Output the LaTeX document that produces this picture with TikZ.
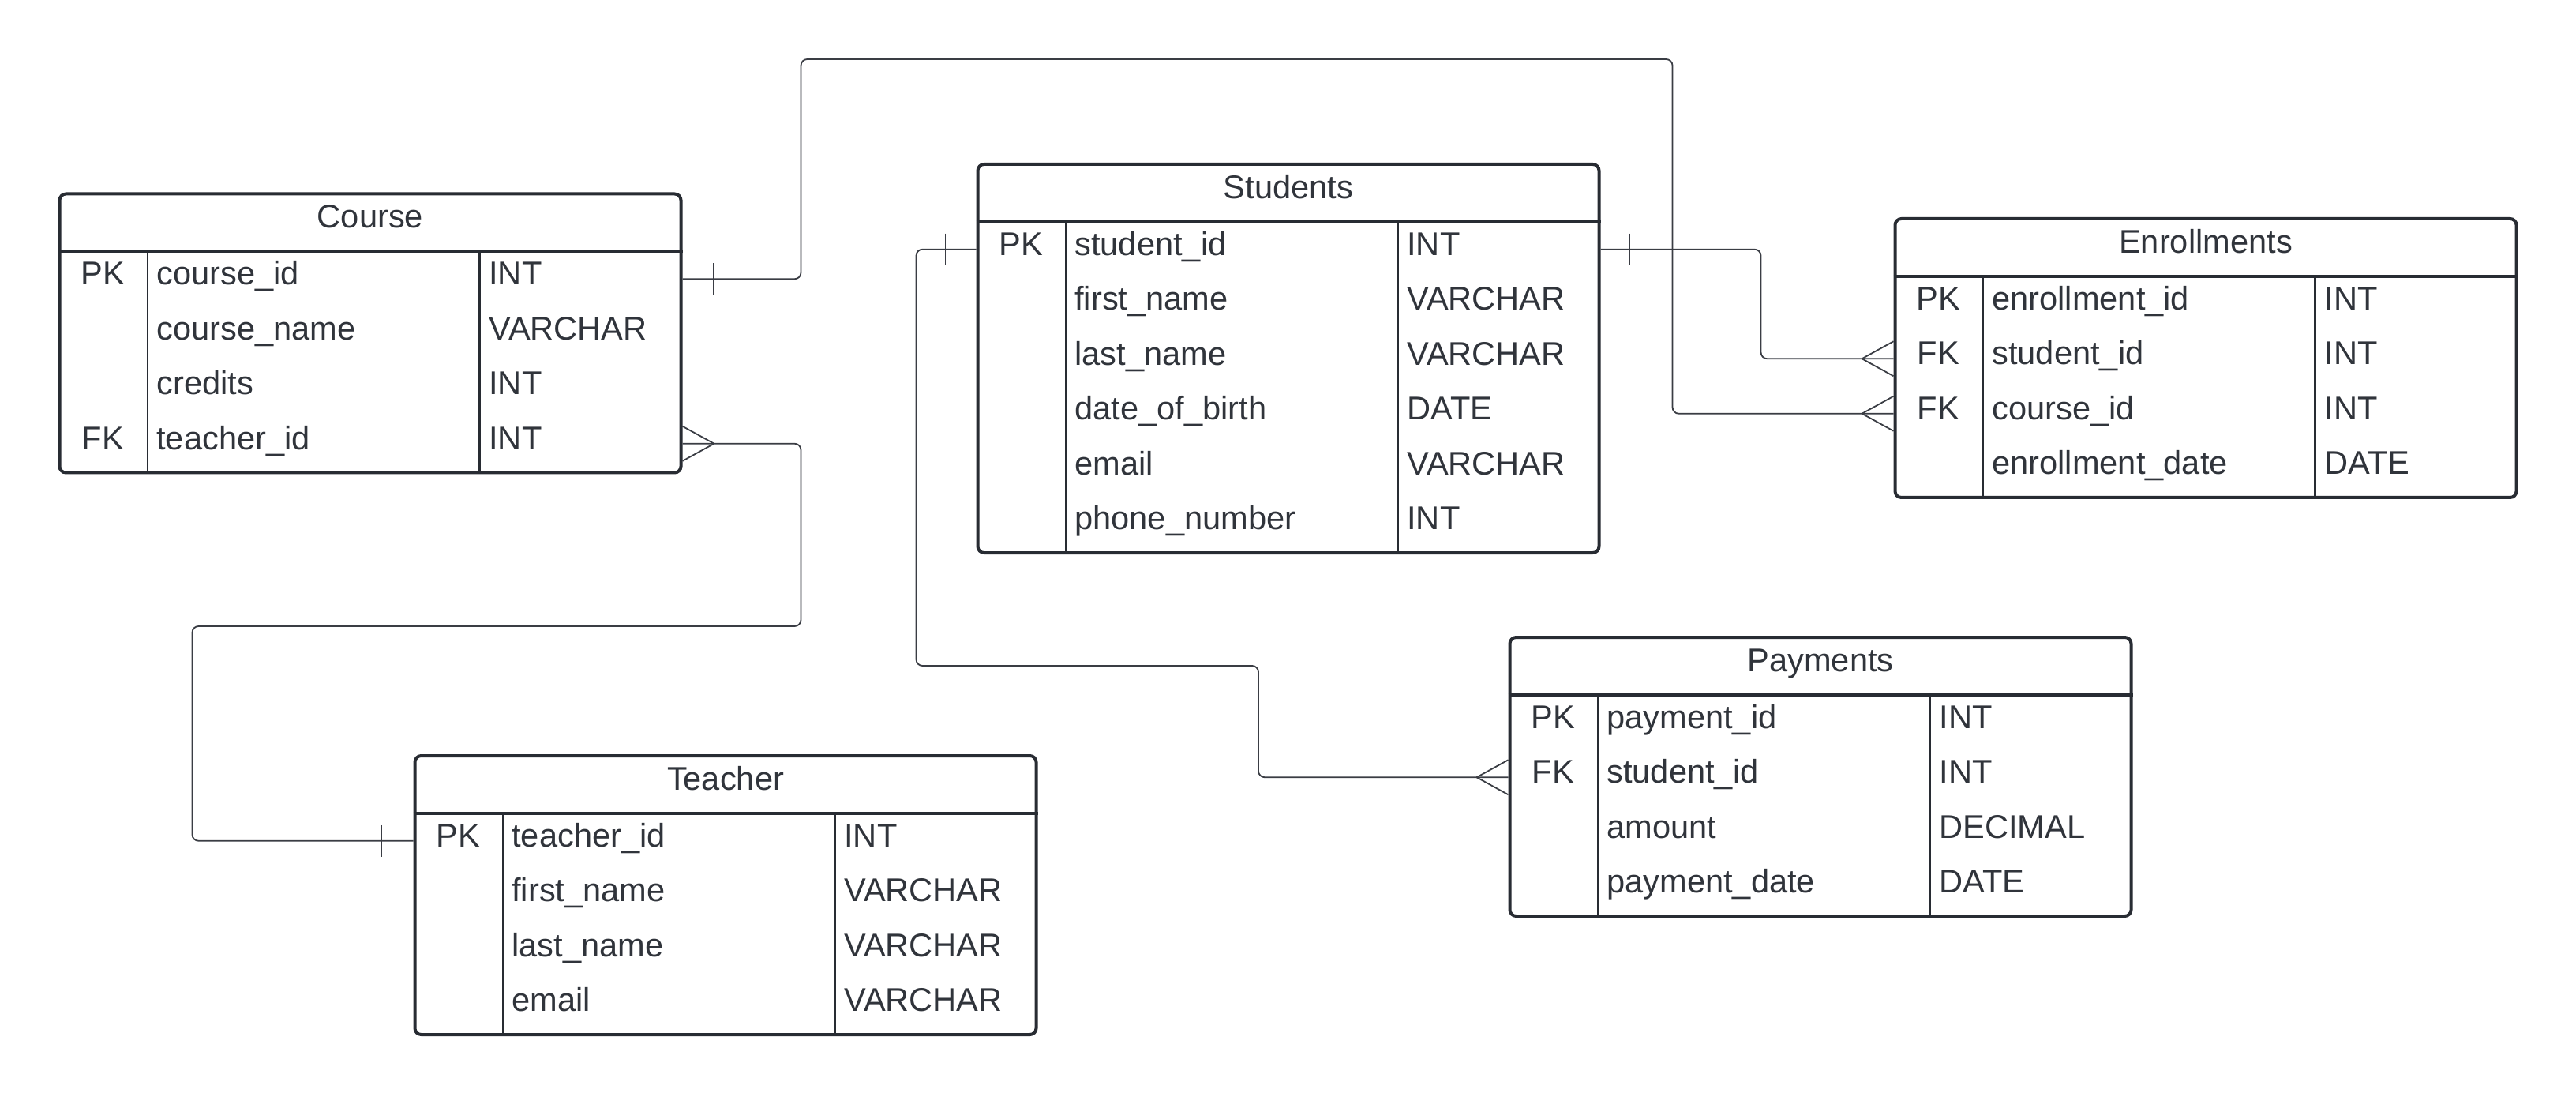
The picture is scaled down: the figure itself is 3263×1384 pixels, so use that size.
\documentclass[tikz,border=0pt]{standalone}
\usepackage{fontspec}
\setmainfont{Liberation Sans}
\usetikzlibrary{calc}
\definecolor{ink}{HTML}{282C33}
\definecolor{txt}{HTML}{30343B}
\definecolor{wire}{HTML}{3A3D44}
\tikzset{
  tabframe/.style={draw=ink, line width=2pt, rounded corners=4pt, inner sep=0pt, fill=white},
  colsep/.style={draw=ink, line width=1.3pt},
  hdrsep/.style={draw=ink, line width=2pt},
  celltxt/.style={text=txt, font=\fontsize{20.8}{24}\selectfont, inner sep=0pt, text height=0.88em, text depth=0.12em},
  wirestyle/.style={draw=wire, line width=0.9pt, rounded corners=4pt},
  markstyle/.style={draw=wire, line width=0.9pt},
}
\newcommand\ertab[6]{%
  \pgfmathsetmacro\tabH{(75+69.5*#5)*0.5}
  \node[tabframe, anchor=north west, minimum width=393.5pt, minimum height=\tabH pt] (#1) at (#2,#3) {};
  \node[celltxt] (#1-title) at ($(#1.north)+(0,37.5)$) {#4};
  \draw[hdrsep] ($(#1.north west)+(0,75)$) -- ($(#1.north east)+(0,75)$);
  \draw[colsep] ($(#1.north west)+(113.5,75)$) -- ($(#1.south west)+(113.5,0)$);
  \draw[colsep] ($(#1.north west)+(534,75)$) -- ($(#1.south west)+(534,0)$);
  \foreach \k/\n/\t [count=\i] in {#6} {
    \pgfmathsetmacro\ry{75+69.5*(\i-1)+34.75}
    \node[celltxt] (#1-k\i) at ($(#1.north west)+(57,\ry)$) {\k};
    \node[celltxt, anchor=west] (#1-n\i) at ($(#1.north west)+(124.5,\ry)$) {\n};
    \node[celltxt, anchor=west] (#1-t\i) at ($(#1.north west)+(545.5,\ry)$) {\t};
    \coordinate (#1-W\i) at ($(#1.north west)+(0,\ry)$);
    \coordinate (#1-E\i) at ($(#1.north east)+(0,\ry)$);
  }
}
\begin{document}
\begin{tikzpicture}[x=0.5pt, y=-0.5pt]
\fill[white] (0,0) rectangle (3263,1384);
\useasboundingbox (0,0) rectangle (3263,1384);

\ertab{course}{73.5}{243.5}{Course}{4}{PK/course\_id/INT, {}/course\_name/VARCHAR, {}/credits/INT, FK/teacher\_id/INT}
\ertab{students}{1236.5}{206}{Students}{6}{PK/student\_id/INT, {}/first\_name/VARCHAR, {}/last\_name/VARCHAR, {}/date\_of\_birth/DATE, {}/email/VARCHAR, {}/phone\_number/INT}
\ertab{enroll}{2398.5}{275}{Enrollments}{4}{PK/enrollment\_id/INT, FK/student\_id/INT, FK/course\_id/INT, {}/enrollment\_date/DATE}
\ertab{pay}{1910.5}{805}{Payments}{4}{PK/payment\_id/INT, FK/student\_id/INT, {}/amount/DECIMAL, {}/payment\_date/DATE}
\ertab{teacher}{523.5}{955}{Teacher}{4}{PK/teacher\_id/INT, {}/first\_name/VARCHAR, {}/last\_name/VARCHAR, {}/email/VARCHAR}

% Course.course_id -> Enrollments.course_id
\draw[wirestyle] (course-E1) -- ++(150,0) |- (2118.5,75) |- (enroll-W3);
\draw[markstyle] ($(course-E1)+(39,-20)$) -- ($(course-E1)+(39,20)$);
\draw[markstyle] ($(enroll-W3)+(-40,0)$) -- ($(enroll-W3)+(0,-22)$);
\draw[markstyle] ($(enroll-W3)+(-40,0)$) -- ($(enroll-W3)+(0,22)$);

% Students.student_id -> Enrollments.student_id
\draw[wirestyle] (students-E1) -| ($(enroll-W2)+(-168,0)$) -- (enroll-W2);
\draw[markstyle] ($(students-E1)+(37,-20)$) -- ($(students-E1)+(37,20)$);
\draw[markstyle] ($(enroll-W2)+(-40,0)$) -- ($(enroll-W2)+(0,-22)$);
\draw[markstyle] ($(enroll-W2)+(-40,0)$) -- ($(enroll-W2)+(0,22)$);
\draw[markstyle] ($(enroll-W2)+(-40,-22)$) -- ($(enroll-W2)+(-40,22)$);

% Course.teacher_id -> Teacher.teacher_id
\draw[wirestyle] (course-E4) -- ++(150,0) |- (243.5,793) |- (teacher-W1);
\draw[markstyle] ($(course-E4)+(40,0)$) -- ($(course-E4)+(0,-22)$);
\draw[markstyle] ($(course-E4)+(40,0)$) -- ($(course-E4)+(0,22)$);
\draw[markstyle] ($(teacher-W1)+(-40,-20)$) -- ($(teacher-W1)+(-40,20)$);

% Students.student_id -> Payments.student_id
\draw[wirestyle] (students-W1) -- ++(-76,0) |- (1594,843) |- (pay-W2);
\draw[markstyle] ($(students-W1)+(-39,-20)$) -- ($(students-W1)+(-39,20)$);
\draw[markstyle] ($(pay-W2)+(-40,0)$) -- ($(pay-W2)+(0,-22)$);
\draw[markstyle] ($(pay-W2)+(-40,0)$) -- ($(pay-W2)+(0,22)$);
\end{tikzpicture}
\end{document}
